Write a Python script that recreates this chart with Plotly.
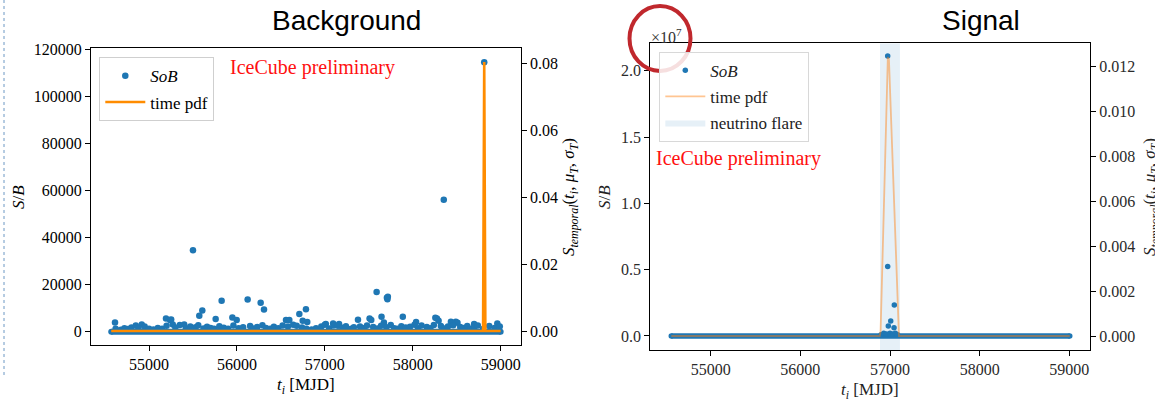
import plotly.graph_objects as go

W, H = 1155, 404

# ---------------- data ----------------
# Background panel: SoB events (t_i [MJD], S/B)
bg_t = [54613, 54917, 55193, 55239, 55252, 55500, 55572, 55606, 55758, 55826,
        55948, 55997, 56122, 56270, 56308, 56558, 56596, 56710, 56748, 56785,
        56800, 57011, 57094, 57162, 57377, 57509, 57528, 57589, 57645, 57672,
        57706, 57712, 57717, 57887, 58038, 58257, 58275, 58294, 58353, 58434,
        58490, 58509, 58698, 58813, 58962,
        54620, 54680, 54720, 54760, 54800, 54850, 54880, 54950, 55000, 55050,
        55100, 55150, 55200, 55270, 55300, 55350, 55400, 55420, 55470, 55530,
        55560, 55620, 55660, 55700, 55740, 55800, 55850, 55900, 55960, 56020,
        56070, 56150, 56190, 56230, 56290, 56330, 56380, 56420, 56470, 56520,
        56580, 56640, 56680, 56740, 56790, 56850, 56900, 56960, 57000, 57050,
        57100, 57150, 57200, 57240, 57300, 57330, 57400, 57450, 57480, 57550,
        57600, 57640, 57700, 57750, 57790, 57830, 57870, 57920, 57970, 58020,
        58060, 58100, 58160, 58200, 58240, 58320, 58360, 58400, 58460, 58540,
        58580, 58620, 58660, 58700, 58740, 58800, 58870, 58930, 58990]
bg_sob = [3950, 3100, 5630, 4930, 5200, 34600, 6760, 9010, 5350, 13090,
          6050, 4930, 13660, 12250, 9430, 4930, 4930, 7460, 4650, 9570,
          4080, 3240, 3520, 3240, 5070, 5630, 4930, 16900, 6340, 3940,
          14360, 13800, 14780, 6340, 4080, 5910, 5630, 4650, 56000, 4220,
          4220, 3800, 3240, 114350, 3520,
          1200, 800, 1500, 1100, 1800, 2600, 1400, 2200, 1300, 900,
          1600, 1200, 2500, 3100, 1800, 2800, 3000, 1500, 2200, 1900,
          2700, 1400, 2100, 1600, 1200, 2300, 1700, 1300, 2600, 1500,
          1900, 2400, 1400, 2000, 2700, 1600, 1200, 2100, 1500, 2600,
          2200, 2900, 2500, 1800, 1300, 900, 1500, 2200, 2900, 1400,
          2600, 2500, 1700, 2300, 1300, 1900, 2200, 1600, 2600, 2000,
          1400, 2500, 1900, 2800, 1500, 1200, 2300, 1800, 2100, 2900,
          1500, 2600, 2000, 1500, 2800, 2400, 1400, 2200, 2700, 2000,
          1600, 2400, 1300, 1900, 2600, 1100, 2400, 1600, 2200]
# dense band of events sitting at S/B ~ 0 (first / last event time)
bg_band_t = [54570, 59000]
bg_band_sob = [0, 0]
# time pdf (background hypothesis)
bg_pdf_t = [54570, 58800, 58813, 58826, 59000]
bg_pdf = [0.0, 0.0, 0.0803, 0.0, 0.0]

# Signal panel
sig_t = [56974, 56974, 57048, 57008, 56981, 57045, 56900, 56930, 56960, 57000,
         57030, 57060, 57085]
sig_sob = [2.11e7, 0.523e7, 0.234e7, 0.113e7, 0.0755e7, 0.063e7, 0.01e7, 0.02e7,
           0.015e7, 0.02e7, 0.015e7, 0.02e7, 0.01e7]
sig_band_t = [54560, 59005]
sig_band_sob = [0, 0]
sig_pdf_t = [54560, 56885, 56895, 56935, 56976, 56988, 57040, 57088, 57100, 59005]
sig_pdf = [0.0, 0.0, 0.0002, 0.0060, 0.0124, 0.0123, 0.0064, 0.0005, 0.0, 0.0]
flare_t = [56888, 57111]

x_ticks = [55000, 56000, 57000, 58000, 59000]
sig_y_ticks = [0.0, 0.5e7, 1.0e7, 1.5e7, 2.0e7]
sig_y_text = ["0.0", "0.5", "1.0", "1.5", "2.0"]

# ---------------- layout geometry (pixels) ----------------
def px(x):
    return x / W

def py(y):
    return (H - y) / H

L = dict(x0=91, x1=520.7, y0=48.3, y1=345)
R = dict(x0=650.3, x1=1090, y0=43.3, y1=350)

left_xr = [54340, 59228]
left_yr = [-5650, 120300]
left_y2r = [-0.00418, 0.0844]
right_xr = [54326, 59231]
right_yr = [-0.1056e7, 2.2066e7]
right_y2r = [-0.000622, 0.01301]

BLUE = "#1f77b4"
SERIF = "Liberation Serif, Times New Roman, serif"
SANS = "Liberation Sans, Arial, sans-serif"

fig = go.Figure()

# --- Background panel ---
fig.add_trace(go.Scatter(x=bg_band_t, y=bg_band_sob, mode="lines+markers",
                         line=dict(color=BLUE, width=6), marker=dict(color=BLUE, size=6),
                         showlegend=False, hoverinfo="skip", xaxis="x", yaxis="y"))
fig.add_trace(go.Scatter(x=bg_t, y=bg_sob, mode="markers", name="<i>SoB</i>",
                         marker=dict(color=BLUE, size=6.5, line=dict(width=0)),
                         xaxis="x", yaxis="y", legend="legend", legendgroup="a"))
fig.add_trace(go.Scatter(x=bg_pdf_t, y=bg_pdf, mode="lines", name="time pdf",
                         line=dict(color="#ff8c00", width=2.6),
                         xaxis="x", yaxis="y2", legend="legend", legendgroup="b"))

# --- Signal panel ---
fig.add_trace(go.Scatter(x=[flare_t[0], flare_t[1], flare_t[1], flare_t[0], flare_t[0]],
                         y=[right_yr[0], right_yr[0], right_yr[1], right_yr[1], right_yr[0]],
                         mode="lines", fill="toself", fillcolor="rgba(31,119,180,0.11)",
                         line=dict(width=0, color="rgba(0,0,0,0)"), name="neutrino flare",
                         xaxis="x2", yaxis="y3", legend="legend2", legendgroup="f",
                         legendrank=3, hoverinfo="skip"))
fig.add_trace(go.Scatter(x=sig_band_t, y=sig_band_sob, mode="lines+markers",
                         line=dict(color=BLUE, width=5.5), marker=dict(color=BLUE, size=5.5),
                         showlegend=False, hoverinfo="skip", xaxis="x2", yaxis="y3"))
fig.add_trace(go.Scatter(x=sig_t, y=sig_sob, mode="markers", name="<i>SoB</i>",
                         marker=dict(color=BLUE, size=5.5, line=dict(width=0)),
                         xaxis="x2", yaxis="y3", legend="legend2", legendgroup="d",
                         legendrank=1))
fig.add_trace(go.Scatter(x=sig_pdf_t, y=sig_pdf, mode="lines", name="time pdf",
                         line=dict(color="rgba(255,127,14,0.45)", width=1.8),
                         xaxis="x2", yaxis="y4", legend="legend2", legendgroup="e",
                         legendrank=2))

tickfont = dict(family=SERIF, size=16, color="black")
tickfont_r = dict(family=SERIF, size=16, color="#2a2a2a")
common = dict(showgrid=False, zeroline=False, ticks="outside", ticklen=5, tickwidth=1.1,
              tickcolor="black")

fig.update_layout(
    width=W, height=H, margin=dict(l=0, r=0, t=0, b=0, autoexpand=False),
    paper_bgcolor="white", plot_bgcolor="white",
    xaxis=dict(domain=[px(L["x0"]), px(L["x1"])], anchor="y", range=left_xr,
               tickvals=x_ticks, tickformat="d", showline=True, mirror=True,
               linecolor="black", linewidth=1.3, tickfont=tickfont, **common),
    yaxis=dict(domain=[py(L["y1"]), py(L["y0"])], anchor="x", range=left_yr,
               dtick=20000, tick0=0, tickformat="d", showline=True, mirror=True,
               linecolor="black", linewidth=1.3, tickfont=tickfont, **common),
    yaxis2=dict(overlaying="y", side="right", anchor="x", range=left_y2r,
                dtick=0.02, tick0=0, tickformat=".2f", showline=False,
                tickfont=tickfont, **common),
    xaxis2=dict(domain=[px(R["x0"]), px(R["x1"])], anchor="y3", range=right_xr,
                tickvals=x_ticks, tickformat="d", showline=True, mirror=True,
                linecolor="black", linewidth=1.3, tickfont=tickfont_r, **common),
    yaxis3=dict(domain=[py(R["y1"]), py(R["y0"])], anchor="x2", range=right_yr,
                tickvals=sig_y_ticks, ticktext=sig_y_text, showline=True, mirror=True,
                linecolor="black", linewidth=1.3, tickfont=tickfont_r, **common),
    yaxis4=dict(overlaying="y3", side="right", anchor="x2", range=right_y2r,
                dtick=0.002, tick0=0, tickformat=".3f", showline=False,
                tickfont=tickfont_r, **common),
    legend=dict(x=px(99.3), y=py(57.3), xanchor="left", yanchor="top",
                bgcolor="rgba(255,255,255,0.85)", bordercolor="#cfcfcf", borderwidth=1,
                font=dict(family=SERIF, size=17, color="black"), itemwidth=40,
                tracegroupgap=1, traceorder="grouped"),
    legend2=dict(x=px(659.3), y=py(51.7), xanchor="left", yanchor="top",
                 bgcolor="rgba(255,255,255,0.85)", bordercolor="#d8d8d8", borderwidth=1,
                 font=dict(family=SERIF, size=17, color="#222"), itemwidth=40,
                 tracegroupgap=1, traceorder="grouped"),
    showlegend=True,
)

ann = []
def A(text, x, y, size, color="black", family=SERIF, angle=0, xanchor="center", yanchor="middle"):
    ann.append(dict(text=text, x=px(x), y=py(y), xref="paper", yref="paper",
                    showarrow=False, font=dict(family=family, size=size, color=color),
                    textangle=angle, xanchor=xanchor, yanchor=yanchor))

A("Background", 346, 20, 28, family=SANS)
A("Signal", 981, 20, 28, family=SANS)
A("IceCube preliminary", 228, 67, 20, color="#ff1010", xanchor="left")
A("IceCube preliminary", 654, 158, 20, color="#ff1010", xanchor="left")
A("<i>S</i>/<i>B</i>", 18, 197, 17, angle=-90)
A("<i>S</i>/<i>B</i>", 604, 197, 17, color="#222", angle=-90)
A("<i>t<sub>i</sub></i> [MJD]", 306, 386, 17)
A("<i>t<sub>i</sub></i> [MJD]", 870, 391, 17, color="#222")
A("<i>S<sub>temporal</sub></i>(<i>t<sub>i</sub></i>, <i>μ<sub>T</sub></i>, <i>σ<sub>T</sub></i>)",
  570, 197, 17, angle=-90)
A("<i>S<sub>temporal</sub></i>(<i>t<sub>i</sub></i>, <i>μ<sub>T</sub></i>, <i>σ<sub>T</sub></i>)",
  1151, 197, 17, color="#222", angle=-90)
A("×10<sup>7</sup>", 649, 36, 16, color="#333", xanchor="left")
fig.update_layout(annotations=ann)

fig.update_layout(shapes=[
    dict(type="circle", xref="paper", yref="paper", x0=px(629.5), x1=px(690.5),
         y0=py(71), y1=py(6), line=dict(color="#c0282d", width=4)),
    dict(type="line", xref="paper", yref="paper", x0=px(4), x1=px(4), y0=py(0), y1=py(378),
         line=dict(color="#6d98c4", width=1, dash="dot")),
])

fig.write_html("out.html", config={"displayModeBar": False},
               post_script="document.body.style.margin='0px';document.body.style.overflow='hidden';")
